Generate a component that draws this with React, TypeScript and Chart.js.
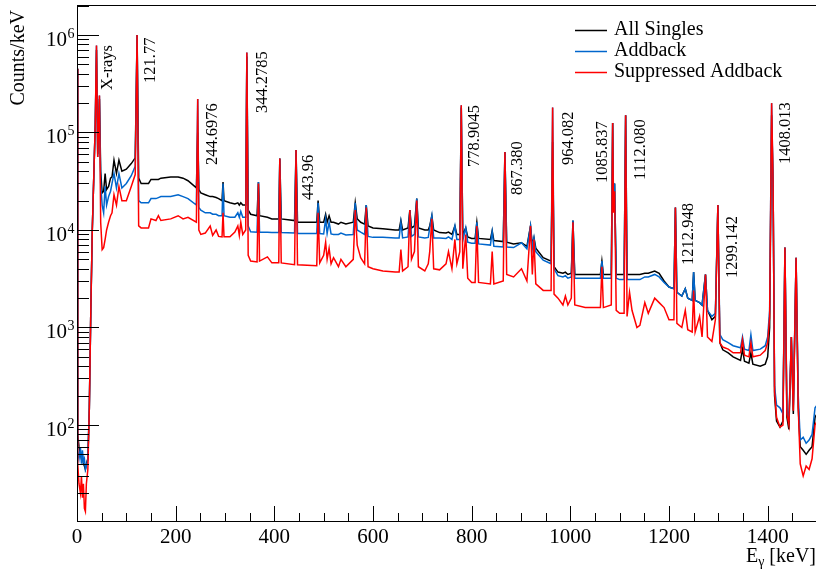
import React, { useEffect, useRef } from "react";
import { Chart, registerables } from "chart.js";

Chart.register(...registerables);

// ---------- data ----------
const energies = [
  0, 1.5, 4, 7, 9, 11, 13, 15, 17, 19,
  22, 25, 28, 31, 34, 37, 39.5, 42, 45.5, 48,
  51, 54, 57, 60, 64, 68, 71, 75, 80, 85,
  91, 100, 110, 118, 121.8, 125, 130, 145, 150, 160,
  165, 170, 190, 205, 215, 225, 242, 244.7, 247, 251,
  260, 270, 275, 282, 287, 294, 296, 298, 310, 320,
  326, 329, 332, 336, 342, 344.3, 347, 352, 365, 367.8,
  370, 386, 395, 409, 411.1, 414, 441, 444, 447, 486,
  488.7, 492, 500, 504, 507, 511, 515, 520, 530, 535,
  545, 560, 564, 568, 575, 583, 586.3, 590, 600, 620,
  645, 653, 656.5, 660, 671, 674.7, 678, 684, 688.7, 692,
  705, 712, 715, 719.3, 723, 735, 748, 753, 760, 766,
  770, 776, 778.9, 782, 788, 792, 800, 807, 810.5, 814,
  838, 841.6, 845, 864, 867.4, 871, 885, 901, 912, 919.3,
  923, 926.3, 930, 945, 961, 964.1, 967, 975, 985, 990,
  995, 1002, 1005.3, 1009, 1030, 1061, 1064, 1067, 1083, 1085.8,
  1087.5, 1089.7, 1093, 1100, 1109, 1112.1, 1115, 1120, 1125, 1135,
  1141, 1151, 1158, 1171, 1180, 1190, 1200, 1210, 1213, 1216,
  1226, 1233, 1238, 1247, 1249.9, 1253, 1262, 1267, 1274, 1278,
  1287, 1294, 1299.1, 1303, 1309, 1320, 1330, 1345, 1349, 1353,
  1362, 1366, 1370, 1385, 1395, 1400, 1404, 1408, 1411, 1414,
  1418, 1425, 1431, 1435, 1439, 1443, 1448, 1452, 1457.6, 1462,
  1466, 1472, 1478, 1484, 1490, 1496, 1500,
];

const singles = [
  4.5e5, 80, 60, 50, 45, 48, 40, 38, 35, 40,
  45, 150, 1500, 1.0e4, 3.5e4, 1.2e5, 7.0e5, 6.0e4, 2.2e5, 4.0e4,
  2.4e4, 2.5e4, 3.8e4, 2.6e4, 2.8e4, 3.4e4, 3.5e4, 5.2e4, 3.8e4, 5.2e4,
  4.0e4, 4.2e4, 4.8e4, 5.5e4, 1.0e6, 3.4e4, 3.0e4, 3.0e4, 3.3e4, 3.3e4,
  3.3e4, 3.4e4, 3.5e4, 3.5e4, 3.4e4, 3.2e4, 2.7e4, 1.0e5, 2.6e4, 2.4e4,
  2.3e4, 2.2e4, 2.2e4, 2.15e4, 2.1e4, 2.0e4, 3.1e4, 2.0e4, 1.9e4, 1.85e4,
  1.9e4, 1.8e4, 1.9e4, 1.8e4, 1.8e4, 6.0e5, 1.6e4, 1.45e4, 1.4e4, 3.1e4,
  1.4e4, 1.35e4, 1.3e4, 1.3e4, 5.4e4, 1.3e4, 1.25e4, 6.6e4, 1.2e4, 1.2e4,
  2.0e4, 1.2e4, 1.2e4, 1.45e4, 1.2e4, 1.4e4, 1.2e4, 1.2e4, 1.15e4, 1.2e4,
  1.15e4, 1.2e4, 1.9e4, 1.3e4, 1.2e4, 1.15e4, 1.8e4, 1.1e4, 1.05e4, 1.03e4,
  1.0e4, 1.0e4, 1.25e4, 1.0e4, 1.05e4, 1.6e4, 1.05e4, 1.1e4, 2.1e4, 1.05e4,
  1.0e4, 1.0e4, 1.1e4, 1.4e4, 1.0e4, 9.4e3, 9.3e3, 9.5e3, 9.0e3, 1.1e4,
  9.0e3, 9.0e3, 1.8e5, 9.0e3, 1.05e4, 8.5e3, 8.2e3, 8.2e3, 1.2e4, 8.2e3,
  8.0e3, 9.8e3, 7.8e3, 7.6e3, 6.3e4, 7.5e3, 7.2e3, 7.4e3, 6.8e3, 1.1e4,
  7.0e3, 8.3e3, 6.5e3, 5.2e3, 4.8e3, 8.0e4, 4.2e3, 3.7e3, 3.6e3, 3.7e3,
  3.5e3, 3.6e3, 1.25e4, 3.5e3, 3.5e3, 3.5e3, 4.8e3, 3.5e3, 3.5e3, 1.25e5,
  2.0e4, 3.0e4, 3.5e3, 3.5e3, 3.5e3, 1.5e5, 3.5e3, 3.5e3, 3.5e3, 3.5e3,
  3.5e3, 3.6e3, 3.6e3, 3.8e3, 3.6e3, 3.0e3, 2.6e3, 2.5e3, 1.7e4, 2.3e3,
  2.1e3, 2.5e3, 2.0e3, 1.9e3, 3.7e3, 1.9e3, 1.8e3, 1.7e3, 3.5e3, 1.5e3,
  1.2e3, 1.3e3, 1.8e4, 7.0e2, 5.9e2, 5.5e2, 5.0e2, 4.6e2, 6.0e2, 4.5e2,
  4.3e2, 5.5e2, 4.2e2, 4.0e2, 4.2e2, 5.0e2, 1.0e3, 1.5e5, 3.0e4, 2.0e2,
  1.1e2, 9.5e1, 1.1e2, 6.6e3, 1.2e2, 9.0e1, 8.0e2, 1.3e2, 5.2e3, 1.5e2,
  6.0e1, 5.5e1, 5.0e1, 5.5e1, 6.0e1, 1.2e2, 1.3e2,
];

const addback = [
  4.5e5, 55, 45, 58, 40, 55, 42, 45, 35, 38,
  45, 150, 1500, 1.0e4, 3.5e4, 1.2e5, 7.8e5, 5.6e4, 2.4e5, 3.0e4,
  1.8e4, 1.5e4, 2.8e4, 1.8e4, 2.2e4, 2.5e4, 3.0e4, 3.8e4, 2.7e4, 3.8e4,
  2.7e4, 3.0e4, 3.6e4, 4.5e4, 1.0e6, 2.0e4, 1.9e4, 1.9e4, 2.1e4, 2.1e4,
  2.15e4, 2.2e4, 2.2e4, 2.3e4, 2.2e4, 2.1e4, 1.8e4, 2.2e5, 1.7e4, 1.6e4,
  1.5e4, 1.5e4, 1.45e4, 1.45e4, 1.4e4, 1.4e4, 3.0e4, 1.4e4, 1.35e4, 1.35e4,
  1.5e4, 1.35e4, 1.55e4, 1.35e4, 1.35e4, 6.6e5, 1.1e4, 9.6e3, 9.5e3, 3.1e4,
  9.5e3, 9.5e3, 9.4e3, 9.4e3, 5.4e4, 9.4e3, 9.3e3, 6.6e4, 9.2e3, 9.2e3,
  1.9e4, 9.2e3, 9.1e3, 1.3e4, 9.2e3, 1.2e4, 9.1e3, 9.0e3, 9.0e3, 9.3e3,
  8.9e3, 9.0e3, 1.9e4, 1.0e4, 9.5e3, 9.0e3, 1.8e4, 8.6e3, 8.4e3, 8.4e3,
  8.3e3, 8.3e3, 1.2e4, 8.3e3, 8.5e3, 1.6e4, 8.6e3, 9.0e3, 2.1e4, 8.5e3,
  8.3e3, 8.4e3, 1.05e4, 1.4e4, 8.3e3, 8.3e3, 8.2e3, 8.5e3, 8.0e3, 1.1e4,
  8.0e3, 8.0e3, 1.9e5, 7.8e3, 1.05e4, 7.5e3, 7.3e3, 7.3e3, 1.2e4, 7.2e3,
  7.0e3, 9.6e3, 6.8e3, 6.7e3, 6.3e4, 6.7e3, 6.6e3, 7.4e3, 6.4e3, 1.1e4,
  6.5e3, 8.3e3, 6.0e3, 4.9e3, 4.5e3, 1.8e5, 4.0e3, 3.4e3, 3.3e3, 3.4e3,
  3.2e3, 3.3e3, 1.25e4, 3.2e3, 3.2e3, 3.2e3, 4.8e3, 3.2e3, 3.2e3, 1.25e5,
  2.0e4, 3.0e4, 3.2e3, 3.1e3, 3.1e3, 1.5e5, 3.1e3, 3.1e3, 3.1e3, 3.1e3,
  3.1e3, 3.3e3, 3.3e3, 3.5e3, 3.3e3, 2.9e3, 2.6e3, 2.5e3, 1.7e4, 2.3e3,
  2.1e3, 2.5e3, 2.0e3, 1.9e3, 3.7e3, 1.9e3, 1.8e3, 1.7e3, 3.5e3, 1.5e3,
  1.3e3, 1.4e3, 1.8e4, 8.5e2, 7.5e2, 7.0e2, 6.5e2, 6.2e2, 8.0e2, 6.0e2,
  5.8e2, 8.4e2, 5.8e2, 6.0e2, 6.5e2, 8.0e2, 1.5e3, 2.0e5, 3.0e4, 2.5e2,
  1.6e2, 1.5e2, 1.3e2, 6.6e3, 1.5e2, 1.1e2, 8.0e2, 1.6e2, 5.2e3, 2.0e2,
  7.0e1, 7.5e1, 6.5e1, 7.0e1, 8.0e1, 1.5e2, 1.6e2,
];

const suppressed = [
  4.5e5, 40, 25, 20, 30, 18, 25, 14, 13, 25,
  35, 150, 1500, 1.0e4, 3.5e4, 1.2e5, 7.8e5, 5.6e4, 2.4e5, 1.2e4,
  6.3e3, 6.6e3, 8.0e3, 1.0e4, 1.2e4, 1.4e4, 1.5e4, 2.3e4, 1.8e4, 2.8e4,
  2.0e4, 2.0e4, 2.8e4, 3.7e4, 1.0e6, 1.1e4, 1.05e4, 1.05e4, 1.3e4, 1.25e4,
  1.4e4, 1.25e4, 1.3e4, 1.4e4, 1.3e4, 1.35e4, 1.2e4, 2.2e5, 1.0e4, 9.0e3,
  9.3e3, 1.1e4, 8.8e3, 1.0e4, 8.6e3, 8.5e3, 1.5e4, 8.5e3, 8.5e3, 9.5e3,
  1.1e4, 8.8e3, 1.2e4, 9.0e3, 1.0e4, 6.6e5, 5.5e3, 4.8e3, 4.7e3, 3.0e4,
  4.8e3, 5.3e3, 4.6e3, 4.6e3, 5.4e4, 4.6e3, 4.4e3, 6.6e4, 4.4e3, 4.3e3,
  1.5e4, 4.6e3, 5.5e3, 7.5e3, 5.0e3, 6.5e3, 4.5e3, 5.2e3, 4.2e3, 5.0e3,
  4.2e3, 5.0e3, 1.6e4, 7.0e3, 5.2e3, 4.5e3, 1.7e4, 4.2e3, 4.0e3, 3.8e3,
  3.7e3, 3.7e3, 6.3e3, 3.8e3, 4.2e3, 1.6e4, 5.0e3, 6.0e3, 2.0e4, 4.2e3,
  3.8e3, 4.5e3, 6.0e3, 1.3e4, 4.0e3, 3.9e3, 4.5e3, 6.0e3, 4.0e3, 8.0e3,
  4.5e3, 6.0e3, 1.9e5, 4.0e3, 9.0e3, 3.2e3, 2.9e3, 2.9e3, 1.1e4, 2.9e3,
  2.8e3, 6.0e3, 2.8e3, 3.0e3, 6.3e4, 3.5e3, 3.3e3, 4.0e3, 3.0e3, 1.1e4,
  3.5e3, 8.0e3, 2.8e3, 2.4e3, 2.4e3, 1.8e5, 2.2e3, 2.0e3, 1.7e3, 2.1e3,
  1.7e3, 2.0e3, 1.2e4, 1.7e3, 1.6e3, 1.6e3, 4.2e3, 1.6e3, 1.7e3, 1.25e5,
  1.5e4, 2.5e4, 1.5e3, 1.4e3, 1.4e3, 1.5e5, 1.3e3, 2.3e3, 1.5e3, 1.0e3,
  1.05e3, 1.8e3, 1.4e3, 2.0e3, 1.8e3, 1.6e3, 1.2e3, 1.2e3, 1.7e4, 1.1e3,
  1.0e3, 1.5e3, 9.5e2, 9.0e2, 2.4e3, 9.0e2, 1.3e3, 8.0e2, 3.5e3, 8.0e2,
  7.2e2, 1.2e3, 1.8e4, 7.0e2, 6.3e2, 6.0e2, 5.5e2, 5.5e2, 7.5e2, 5.2e2,
  5.0e2, 7.0e2, 5.0e2, 5.2e2, 5.8e2, 7.0e2, 1.3e3, 2.0e5, 3.0e4, 2.2e2,
  1.2e2, 9.5e1, 1.0e2, 6.6e3, 1.3e2, 1.0e2, 8.0e2, 1.4e2, 5.2e3, 1.5e2,
  4.0e1, 3.0e1, 3.8e1, 3.5e1, 4.5e1, 1.0e2, 1.1e2,
];

const seriesNames = ["All Singles", "Addback", "Suppressed Addback"];
const seriesColors = ["#000000", "#0066cc", "#ff0000"];

const xTickLabels = [0, 200, 400, 600, 800, 1000, 1200, 1400];
const yDecades = [2, 3, 4, 5, 6];

// peak annotations: text, energy of baseline of rotated text, counts at text start
const peakLabels = ["X-rays", "121.77", "244.6976", "344.2785", "443.96", "778.9045", "867.380", "964.082", "1085.837", "1112.080", "1212.948", "1299.142", "1408.013"];
const peakLabelEnergies = [71, 158, 284, 385, 478, 815, 902, 1005, 1074, 1151, 1249, 1338, 1445];
const peakLabelCounts = [2.73e5, 3.22e5, 4.64e4, 1.58e5, 2.03e4, 4.43e4, 2.29e4, 4.64e4, 3.03e4, 3.26e4, 4.38e3, 3.22e3, 4.75e4];

const FONT = "'Liberation Serif', 'Times New Roman', Times, serif";

export default function App() {
  const ref = useRef<HTMLCanvasElement>(null);

  useEffect(() => {
    const canvas = ref.current;
    if (!canvas) return;
    const toPts = (vals: number[]) => energies.map((e, i) => ({ x: e, y: vals[i] }));

    const rootStyle = {
      id: "rootStyle",
      afterDraw(chart: any) {
        const { ctx, chartArea: a, scales } = chart;
        const xs = scales.x;
        const ys = scales.y;
        ctx.save();
        // frame
        ctx.strokeStyle = "#000";
        ctx.lineWidth = 1;
        ctx.strokeRect(a.left + 0.5, a.top + 0.5, a.right - a.left, a.bottom - a.top);

        // ticks
        ctx.beginPath();
        for (let v = 0; v <= 1500; v += 50) {
          const px = Math.round(xs.getPixelForValue(v)) + 0.5;
          const len = v % 200 === 0 ? 15 : 8;
          ctx.moveTo(px, a.bottom);
          ctx.lineTo(px, a.bottom - len);
        }
        for (let d = 1; d <= 6; d++) {
          for (let m = 1; m <= 9; m++) {
            const v = m * Math.pow(10, d);
            if (v < ys.min || v > ys.max) continue;
            const py = Math.round(ys.getPixelForValue(v)) + 0.5;
            const len = m === 1 ? 22 : 12;
            ctx.moveTo(a.left, py);
            ctx.lineTo(a.left + len, py);
          }
        }
        ctx.stroke();

        ctx.fillStyle = "#000";
        // x tick labels
        ctx.font = `21px ${FONT}`;
        ctx.textAlign = "center";
        ctx.textBaseline = "alphabetic";
        for (const v of xTickLabels) {
          ctx.fillText(String(v), xs.getPixelForValue(v), 543);
        }
        // y tick labels 10^n
        for (const d of yDecades) {
          const py = ys.getPixelForValue(Math.pow(10, d));
          ctx.font = `21px ${FONT}`;
          ctx.textAlign = "right";
          ctx.fillText("10", 67, py + 11);
          ctx.font = `14px ${FONT}`;
          ctx.textAlign = "left";
          ctx.fillText(String(d), 67.5, py + 3);
        }

        // y axis title
        ctx.save();
        ctx.translate(24, 10);
        ctx.rotate(-Math.PI / 2);
        ctx.font = `20px ${FONT}`;
        ctx.textAlign = "right";
        ctx.textBaseline = "alphabetic";
        ctx.fillText("Counts/keV", 0, 0);
        ctx.restore();

        // x axis title E_γ [keV]
        ctx.textAlign = "left";
        ctx.font = `20px ${FONT}`;
        const wE = ctx.measureText("E").width;
        const wRest = ctx.measureText(" [keV]").width;
        ctx.font = `14px ${FONT}`;
        const wG = ctx.measureText("γ").width;
        let x0 = a.right - 1 - (wE + wG + wRest);
        ctx.font = `20px ${FONT}`;
        ctx.fillText("E", x0, 562);
        ctx.font = `14px ${FONT}`;
        ctx.fillText("γ", x0 + wE, 566);
        ctx.font = `20px ${FONT}`;
        ctx.fillText(" [keV]", x0 + wE + wG, 562);

        // legend
        const legendY = [30, 51, 72];
        const order = [0, 1, 2];
        ctx.lineWidth = 1.5;
        for (const i of order) {
          ctx.strokeStyle = seriesColors[i];
          ctx.beginPath();
          ctx.moveTo(575, legendY[i] + 0.5);
          ctx.lineTo(607, legendY[i] + 0.5);
          ctx.stroke();
          ctx.fillStyle = "#000";
          ctx.font = `20px ${FONT}`;
          ctx.textAlign = "left";
          ctx.fillText(seriesNames[i], 614, legendY[i] + 5);
        }

        // peak labels
        ctx.font = `16.5px ${FONT}`;
        ctx.fillStyle = "#000";
        for (let i = 0; i < peakLabels.length; i++) {
          const px = xs.getPixelForValue(peakLabelEnergies[i]);
          const py = ys.getPixelForValue(peakLabelCounts[i]);
          ctx.save();
          ctx.translate(px, py);
          ctx.rotate(-Math.PI / 2);
          ctx.textAlign = "left";
          ctx.textBaseline = "alphabetic";
          ctx.fillText(peakLabels[i], 0, 0);
          ctx.restore();
        }
        ctx.restore();
      },
    };

    const chart = new Chart(canvas, {
      type: "line",
      data: {
        datasets: [
          { label: seriesNames[2], data: toPts(suppressed), borderColor: seriesColors[2], order: 0 },
          { label: seriesNames[1], data: toPts(addback), borderColor: seriesColors[1], order: 1 },
          { label: seriesNames[0], data: toPts(singles), borderColor: seriesColors[0], order: 2 },
        ],
      },
      options: {
        animation: false,
        responsive: false,
        devicePixelRatio: 1,
        layout: { padding: { left: 77, top: 5, right: 13, bottom: 48 } },
        elements: {
          point: { radius: 0 },
          line: { borderWidth: 1.5, tension: 0, fill: false },
        },
        plugins: { legend: { display: false }, tooltip: { enabled: false } },
        scales: {
          x: { type: "linear", min: 0, max: 1500, display: false },
          y: { type: "logarithmic", min: 10.36, max: 2.03e6, display: false },
        },
      },
      plugins: [rootStyle],
    } as any);

    return () => chart.destroy();
  }, []);

  return (
    <div
      style={{
        position: "fixed",
        left: 0,
        top: 0,
        width: 816,
        height: 569,
        overflow: "hidden",
        background: "#fff",
      }}
    >
      <canvas ref={ref} width={830} height={569} style={{ display: "block", width: 830, height: 569 }} />
    </div>
  );
}
